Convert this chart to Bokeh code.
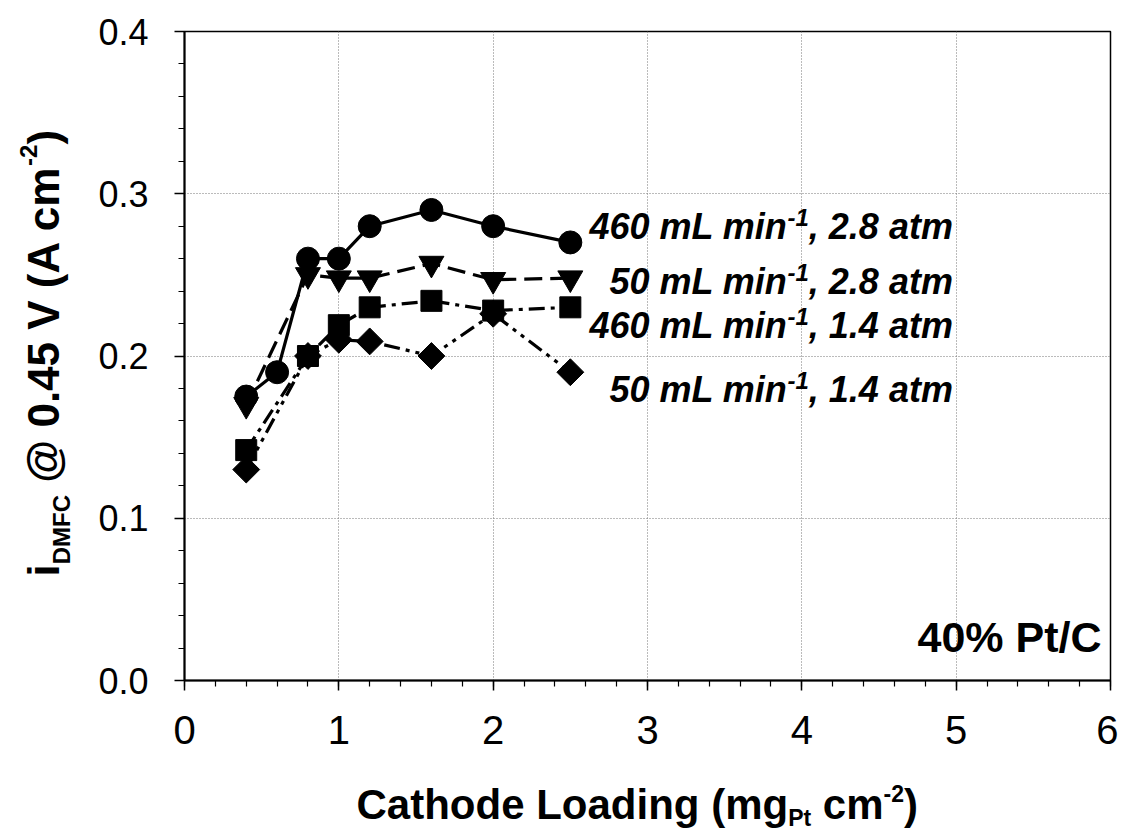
import math
from bokeh.plotting import figure
from bokeh.layouts import row, column
from bokeh.models import Label, SingleIntervalTicker, NumeralTickFormatter, Range1d
from bokeh.embed import file_html
from bokeh.resources import INLINE

# ---------------- data ----------------
loading_a = [0.4, 0.6, 0.8, 1.0, 1.2, 1.6, 2.0, 2.5]
i_460_28 = [0.175, 0.19, 0.26, 0.26, 0.28, 0.29, 0.28, 0.27]

loading_b = [0.4, 0.8, 1.0, 1.2, 1.6, 2.0, 2.5]
i_50_28 = [0.17, 0.25, 0.248, 0.248, 0.257, 0.247, 0.248]
i_460_14 = [0.142, 0.20, 0.219, 0.23, 0.234, 0.228, 0.23]
i_50_14 = [0.13, 0.20, 0.21, 0.209, 0.20, 0.226, 0.19]

series_flow = ["460 mL min", "50 mL min", "460 mL min", "50 mL min"]
series_press = [", 2.8 atm", ", 2.8 atm", ", 1.4 atm", ", 1.4 atm"]

FONT = "Liberation Sans"

# Arial/Liberation Sans Bold advance widths (per 1000 em)
W = {" ": 278, "@": 975, ".": 278, ",": 278, "V": 667, "(": 333, ")": 333, "A": 722,
     "c": 556, "m": 889, "-": 333, "i": 278, "D": 722, "M": 833, "F": 611, "C": 722,
     "a": 556, "t": 333, "h": 611, "o": 611, "d": 611, "e": 556, "L": 611, "n": 611,
     "g": 611, "P": 667, "%": 889, "/": 278}
for ch in "0123456789":
    W[ch] = 556


def adv(text, size):
    return sum(W.get(ch, 556) for ch in text) * size / 1000.0


# page geometry (page pixels)
YLAB_W = 78
MAIN_W = 1040
MB_LEFT, MB_TOP, FRAME_H, MB_BOTTOM = 106, 31, 649, 94
MAIN_H = MB_TOP + FRAME_H + MB_BOTTOM
TOTAL_H = 832

p = figure(width=MAIN_W, height=MAIN_H, output_backend="svg", toolbar_location=None,
           x_range=Range1d(0, 6), y_range=Range1d(0, 0.4),
           min_border_left=MB_LEFT, min_border_right=8, min_border_top=MB_TOP,
           min_border_bottom=MB_BOTTOM)
p.background_fill_color = "white"
p.border_fill_color = "white"
p.outline_line_color = "black"
p.outline_line_width = 1.5

p.xaxis.ticker = SingleIntervalTicker(interval=1, num_minor_ticks=5)
p.yaxis.ticker = SingleIntervalTicker(interval=0.1, num_minor_ticks=5)
p.yaxis.formatter = NumeralTickFormatter(format="0.0")
for ax in (p.xaxis, p.yaxis):
    ax.axis_line_color = "black"
    ax.axis_line_width = 2
    ax.major_tick_line_color = "black"
    ax.major_tick_line_width = 1.5
    ax.minor_tick_line_color = "black"
    ax.minor_tick_line_width = 1.2
    ax.major_tick_in = 0
    ax.major_tick_out = 10
    ax.minor_tick_in = 0
    ax.minor_tick_out = 6
    ax.major_label_text_font = FONT
    ax.major_label_text_color = "black"
    ax.axis_label = None
p.xaxis.major_label_text_font_size = "40px"
p.xaxis.major_label_standoff = 25
p.yaxis.major_label_text_font_size = "36px"
p.yaxis.major_label_standoff = 26

for g in (p.xgrid, p.ygrid):
    g.grid_line_color = "#777777"
    g.grid_line_width = 1
    g.grid_line_dash = "1 2"

# ---------------- series ----------------
LW = 3.2
p.line(loading_a, i_460_28, line_color="black", line_width=LW)
p.scatter(loading_a, i_460_28, marker="circle", size=23, fill_color="black", line_color="black")

p.line(loading_b, i_50_28, line_color="black", line_width=LW, line_dash="18 8")
p.scatter(loading_b, i_50_28, marker="inverted_triangle", size=25, fill_color="black", line_color="black")

p.line(loading_b, i_460_14, line_color="black", line_width=LW, line_dash="16 6 4 6")
p.scatter(loading_b, i_460_14, marker="square", size=21, fill_color="black", line_color="black")

p.line(loading_b, i_50_14, line_color="black", line_width=LW, line_dash="16 6 4 6 4 6")
p.scatter(loading_b, i_50_14, marker="square", angle=math.pi / 4, size=19,
          fill_color="black", line_color="black")

# empirical offset between requested and drawn alphabetic baseline
H_SHIFT = 0.37
R_SHIFT = 0.28


def lab(fig, ox, oy, text, X, Y, size, style="bold", align="left", rotated=False):
    """X, Y = wanted baseline anchor in page pixels (Y downward);
    (ox, oy) = frame left / bottom of fig in page pixels."""
    if rotated:
        X = X - R_SHIFT * size
        ang = math.pi / 2
    else:
        Y = Y - H_SHIFT * size
        ang = 0.0
    fig.add_layout(Label(x=X - ox, y=oy - Y, x_units="screen", y_units="screen",
                         text=text, text_font=FONT, text_font_size=f"{size}px",
                         text_font_style=style, text_align=align,
                         text_baseline="alphabetic", angle=ang, text_color="black"))


# main frame origin in page pixels
MX0, MY0 = YLAB_W + MB_LEFT, MB_TOP + FRAME_H

# ---------------- series labels ----------------
baselines = [239, 294, 338, 402]
SZ, SUP = 36, 24
X_MIN_END = 787
for flow, press, yb in zip(series_flow, series_press, baselines):
    lab(p, MX0, MY0, flow, X_MIN_END, yb, SZ, style="bold italic", align="right")
    lab(p, MX0, MY0, "-1", X_MIN_END, yb - 13, SUP, style="bold italic")
    lab(p, MX0, MY0, press, X_MIN_END + adv("-1", SUP), yb, SZ, style="bold italic")

lab(p, MX0, MY0, "40% Pt/C", 1101, 652, 43, style="bold", align="right")


def blank(w, h):
    f = figure(width=w, height=h, output_backend="svg", toolbar_location=None,
               x_axis_type=None, y_axis_type=None, x_range=Range1d(0, 1), y_range=Range1d(0, 1),
               min_border=0)
    f.min_border_left = f.min_border_right = f.min_border_top = f.min_border_bottom = 0
    f.outline_line_color = None
    f.xgrid.visible = False
    f.ygrid.visible = False
    f.background_fill_color = "white"
    f.border_fill_color = "white"
    return f


def place_pieces(fig, ox, oy, pieces, start, base, rotated):
    cur = start
    for t, s, d in pieces:
        lead = len(t) - len(t.lstrip(" "))
        cur_t = cur + (-1 if rotated else 1) * adv(" " * lead, s)
        body = t.lstrip(" ")
        if rotated:
            lab(fig, ox, oy, body, base + d, cur_t, s, rotated=True)
            cur = cur_t - adv(body, s)
        else:
            lab(fig, ox, oy, body, cur_t, base + d, s)
            cur = cur_t + adv(body, s)


# ---------------- x axis title (frame aligned with the main frame) ----------------
xl = blank(MAIN_W, TOTAL_H - MAIN_H)
XF, XS = 42, 23
place_pieces(xl, MX0, TOTAL_H,
             [("Cathode Loading (mg", XF, 0), ("Pt", XS, 6), (" cm", XF, 0),
              ("-2", XS, -18), (")", XF, 0)],
             start=356.0, base=820.0, rotated=False)

# ---------------- y axis title (rotated) ----------------
yl = blank(YLAB_W, TOTAL_H)
YF, YS = 44, 24
place_pieces(yl, 0, TOTAL_H,
             [("i", YF, 0), ("DMFC", YS, 13), (" @ 0.45 V (A cm", YF, 0),
              ("-2", YS, -20), (")", YF, 0)],
             start=576.0, base=55.0, rotated=True)

layout = row(yl, column(p, xl))
open("out.html", "w").write(file_html(layout, INLINE))
